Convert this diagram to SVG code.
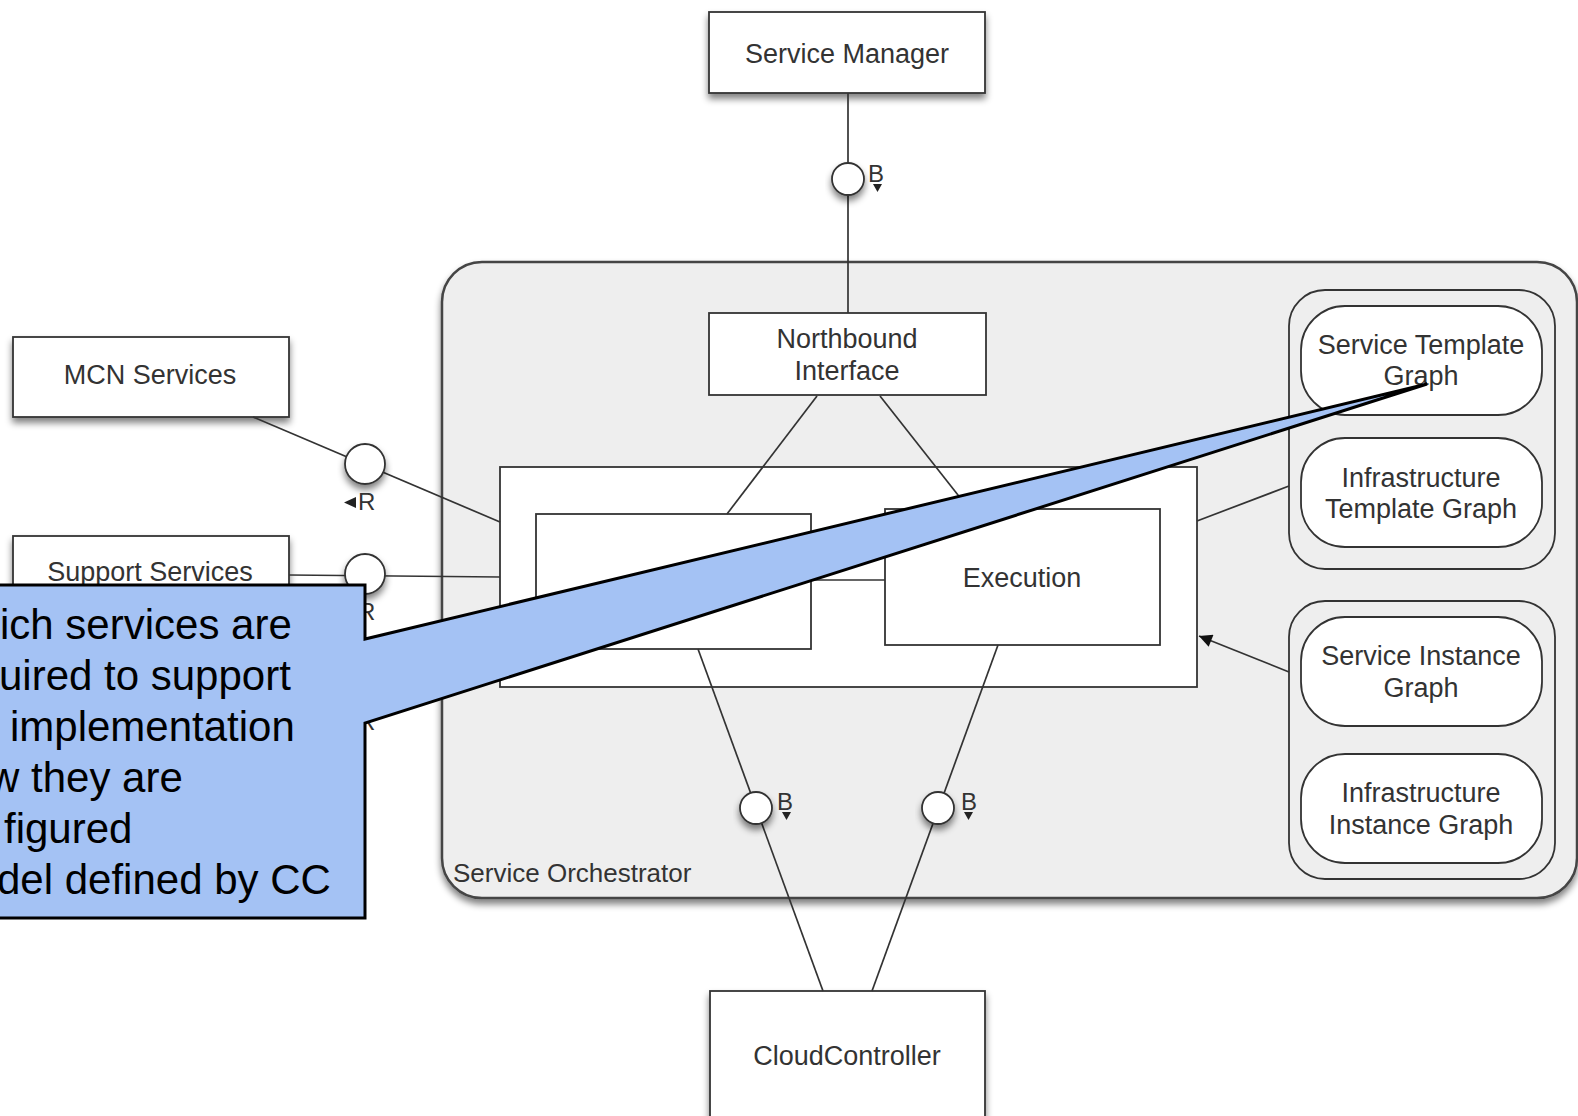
<svg xmlns="http://www.w3.org/2000/svg" width="1578" height="1116" viewBox="0 0 1578 1116">
<defs>
<filter id="sh" x="-20%" y="-20%" width="140%" height="160%">
<feGaussianBlur in="SourceAlpha" stdDeviation="3.5"/>
<feOffset dx="0" dy="5"/>
<feComponentTransfer><feFuncA type="linear" slope="0.5"/></feComponentTransfer>
<feMerge><feMergeNode/><feMergeNode in="SourceGraphic"/></feMerge>
</filter>
<marker id="arr" viewBox="0 0 10 10" refX="10" refY="5" markerWidth="18" markerHeight="13" markerUnits="userSpaceOnUse" orient="auto">
<path d="M0,0 L10,5 L0,10 z" fill="#111"/>
</marker>
</defs>
<style>
.box{fill:#fff;stroke:#333;stroke-width:1.8}
.cont{fill:#eee;stroke:#333;stroke-width:1.8}
.lbl{font-family:"Liberation Sans",Arial,sans-serif;font-size:27px;fill:#333;text-anchor:middle}
.ln{stroke:#333;stroke-width:1.7;fill:none}
.iface{fill:#fff;stroke:#333;stroke-width:1.8}
.small{font-family:"Liberation Sans",Arial,sans-serif;font-size:24px;fill:#333}
.tri{fill:#222}
.call{font-family:"Liberation Sans",Arial,sans-serif;font-size:42px;fill:#000}
</style>

<g id="service-orchestrator">
<rect x="442" y="262" width="1135" height="636" rx="40" fill="#eee" stroke="#444" stroke-width="2.5" filter="url(#sh)"/>
<text x="453" y="882" class="small" style="font-size:26px">Service Orchestrator</text>
</g>

<g id="so-core"><rect x="500" y="467" width="697" height="220" class="box"/></g>
<g id="decision"><rect x="536" y="514" width="275" height="135" class="box"/></g>
<g id="execution"><rect x="885" y="509" width="275" height="136" class="box"/><text x="1022" y="587" class="lbl">Execution</text></g>
<g id="northbound"><rect x="709" y="313" width="277" height="82" class="box"/><text x="847" y="348" class="lbl">Northbound</text><text x="847" y="380" class="lbl">Interface</text></g>

<g id="template-graphs"><rect x="1289" y="290" width="266" height="279" rx="36" class="cont"/></g>
<g id="service-template-graph"><rect x="1301" y="306" width="241" height="109" rx="44" class="box"/><text x="1421" y="354" class="lbl">Service Template</text><text x="1421" y="385" class="lbl">Graph</text></g>
<g id="infrastructure-template-graph"><rect x="1301" y="438" width="241" height="109" rx="44" class="box"/><text x="1421" y="487" class="lbl">Infrastructure</text><text x="1421" y="518" class="lbl">Template Graph</text></g>
<g id="instance-graphs"><rect x="1289" y="601" width="266" height="278" rx="36" class="cont"/></g>
<g id="service-instance-graph"><rect x="1301" y="617" width="241" height="109" rx="44" class="box"/><text x="1421" y="665" class="lbl">Service Instance</text><text x="1421" y="697" class="lbl">Graph</text></g>
<g id="infrastructure-instance-graph"><rect x="1301" y="754" width="241" height="109" rx="44" class="box"/><text x="1421" y="802" class="lbl">Infrastructure</text><text x="1421" y="834" class="lbl">Instance Graph</text></g>

<g id="service-manager"><rect x="709" y="12" width="276" height="81" class="box" filter="url(#sh)"/><text x="847" y="63" class="lbl">Service Manager</text></g>
<g id="mcn-services"><rect x="13" y="337" width="276" height="80" class="box" filter="url(#sh)"/><text x="150" y="384" class="lbl">MCN Services</text></g>
<g id="support-services"><rect x="13" y="536" width="276" height="80" class="box" filter="url(#sh)"/><text x="150" y="581" class="lbl">Support Services</text></g>
<g id="cloud-controller"><rect x="710" y="991" width="275" height="140" class="box" filter="url(#sh)"/><text x="847" y="1065" class="lbl">CloudController</text></g>

<g id="connectors">
<line x1="848" y1="93" x2="848" y2="313" class="ln"/>
<line x1="817" y1="396" x2="727" y2="514" class="ln"/>
<line x1="880" y1="396" x2="969" y2="509" class="ln"/>
<line x1="811" y1="580" x2="885" y2="580" class="ln"/>
<line x1="253" y1="417" x2="500" y2="522" class="ln"/>
<line x1="289" y1="575" x2="500" y2="577" class="ln"/>
<line x1="698" y1="649" x2="823" y2="991" class="ln"/>
<line x1="998" y1="645" x2="872" y2="991" class="ln"/>
<line x1="1197" y1="521" x2="1289" y2="486" class="ln"/>
<line x1="1289" y1="672" x2="1199" y2="636" class="ln" marker-end="url(#arr)"/>
</g>

<g id="iface-sm"><circle cx="848" cy="179" r="16" class="iface" filter="url(#sh)"/><text x="868" y="182" class="small">B</text><polygon points="873,184 882,184 877.5,192" class="tri"/></g>
<g id="iface-cc-left"><circle cx="756" cy="808" r="16" class="iface" filter="url(#sh)"/><text x="777" y="810" class="small">B</text><polygon points="782,812 791,812 786.5,820" class="tri"/></g>
<g id="iface-cc-right"><circle cx="938" cy="808" r="16" class="iface" filter="url(#sh)"/><text x="961" y="810" class="small">B</text><polygon points="964,812 973,812 968.5,820" class="tri"/></g>
<g id="iface-mcn"><circle cx="365" cy="464" r="20" class="iface" filter="url(#sh)"/><text x="358" y="510" class="small">R</text><polygon points="344,502.5 356,497 356,508" class="tri"/></g>
<g id="iface-support"><circle cx="365" cy="574" r="20" class="iface" filter="url(#sh)"/><text x="358" y="620" class="small">R</text><polygon points="344,612.5 356,607 356,618" class="tri"/></g>
<g id="iface-hidden-label"><text x="358" y="730" class="small">R</text></g>

<g id="callout">
<path d="M-5,585 H365 V639 L1427,384 L365,723 V918 H-5 Z" fill="#A4C2F4" stroke="#000" stroke-width="3"/>
<text x="0" y="639" class="call">ich services are</text>
<text x="-1" y="690" class="call">uired to support</text>
<text x="10" y="741" class="call">implementation</text>
<text x="-11" y="792" class="call">w they are</text>
<text x="4" y="843" class="call">figured</text>
<text x="-3" y="894" class="call">del defined by CC</text>
</g>
</svg>
